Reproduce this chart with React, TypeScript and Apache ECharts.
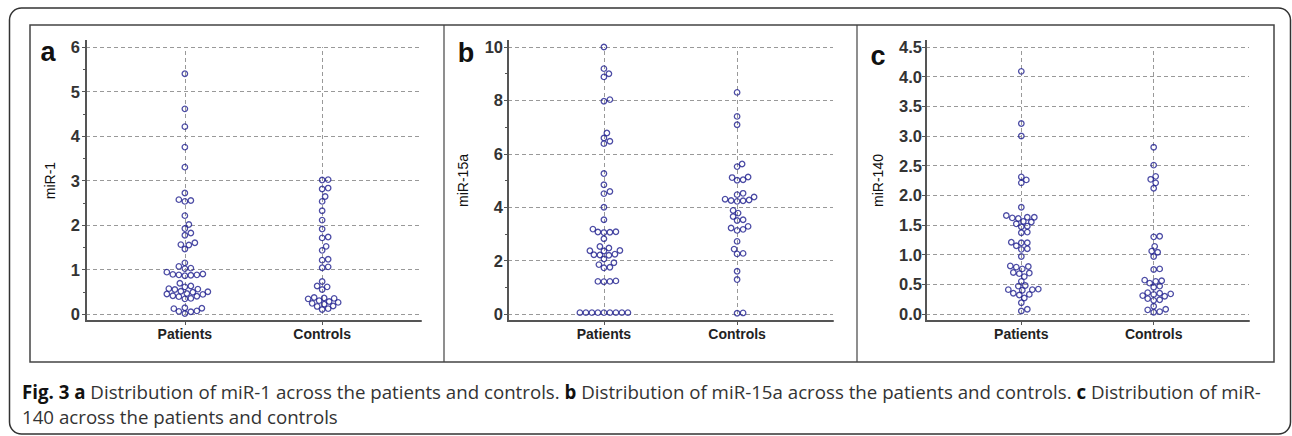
import React, { useEffect, useRef } from "react";
import * as echarts from "echarts";

const categories = ["Patients", "Controls"];
const panelLetters = ["a", "b", "c"];
const yNames = ["miR-1", "miR-15a", "miR-140"];
const yMaxes = [6, 10, 4.5];
const yIntervals = [1, 2, 0.5];

const mir1Patients = [5.4, 4.61, 4.21, 3.75, 3.3, 2.72, 2.57, 2.55, 2.53, 2.21, 2.01, 1.92, 1.82, 1.77, 1.6, 1.56, 1.55, 1.46, 1.15, 1.07, 1.03, 1.02, 0.94, 0.9, 0.89, 0.88, 0.88, 0.87, 0.86, 0.69, 0.63, 0.61, 0.57, 0.56, 0.55, 0.51, 0.5, 0.49, 0.46, 0.45, 0.44, 0.41, 0.4, 0.39, 0.35, 0.34, 0.14, 0.13, 0.12, 0.07, 0.06, 0.05, 0.01];
const mir1Controls = [3.02, 3.01, 2.83, 2.81, 2.64, 2.53, 2.32, 2.11, 1.91, 1.73, 1.71, 1.52, 1.43, 1.23, 1.21, 1.06, 1.04, 0.73, 0.63, 0.61, 0.55, 0.37, 0.36, 0.35, 0.34, 0.3, 0.28, 0.26, 0.24, 0.22, 0.18, 0.17, 0.12, 0.1];
const mir15aPatients = [10.0, 9.19, 9.0, 8.88, 8.03, 7.97, 6.78, 6.59, 6.47, 6.38, 5.26, 4.84, 4.59, 4.51, 4.0, 3.53, 3.18, 3.08, 3.07, 3.06, 3.05, 2.82, 2.53, 2.47, 2.38, 2.37, 2.36, 2.24, 2.22, 2.21, 2.2, 2.06, 1.92, 1.85, 1.75, 1.73, 1.24, 1.22, 1.22, 1.21, 0.05, 0.05, 0.05, 0.05, 0.05, 0.05, 0.05, 0.05, 0.05];
const mir15aControls = [8.3, 7.4, 7.09, 5.62, 5.52, 5.13, 5.11, 5.03, 5.01, 4.52, 4.47, 4.38, 4.3, 4.27, 4.25, 4.24, 4.22, 3.88, 3.78, 3.65, 3.53, 3.5, 3.28, 3.22, 3.17, 3.13, 2.72, 2.43, 2.27, 2.25, 1.6, 1.29, 0.04, 0.03];
const mir140Patients = [4.09, 3.21, 3.0, 2.31, 2.26, 2.21, 1.8, 1.66, 1.63, 1.63, 1.62, 1.61, 1.56, 1.55, 1.52, 1.48, 1.47, 1.38, 1.37, 1.21, 1.2, 1.2, 1.15, 1.1, 1.09, 0.97, 0.81, 0.8, 0.79, 0.76, 0.7, 0.69, 0.68, 0.63, 0.55, 0.48, 0.47, 0.42, 0.41, 0.41, 0.4, 0.35, 0.33, 0.32, 0.27, 0.19, 0.08, 0.05];
const mir140Controls = [2.81, 2.51, 2.32, 2.27, 2.21, 2.12, 1.31, 1.3, 1.14, 1.06, 1.04, 0.97, 0.76, 0.75, 0.57, 0.56, 0.55, 0.52, 0.47, 0.45, 0.36, 0.35, 0.34, 0.33, 0.31, 0.3, 0.26, 0.24, 0.23, 0.13, 0.08, 0.07, 0.04, 0.03];

const panelData = [
  [mir1Patients, mir1Controls],
  [mir15aPatients, mir15aControls],
  [mir140Patients, mir140Controls],
];

const captionLine1 = "Distribution of miR-1 across the patients and controls. ";
const captionLine1b = "Distribution of miR-15a across the patients and controls. ";
const captionLine1c = "Distribution of miR-";
const captionLine2 = "140 across the patients and controls";

// layout
const gridLefts = [86, 508, 926];
const gridWidths = [335, 325, 323];
const gridTop = 47;
const gridHeight = 267;
const xMin = 0.28;
const xMax = 2.72;
const markerD = 5.6;
const navy = "#1f1f8e";
const FONT = "Liberation Sans";
const CAP_FONT = "Open Sans";
const CAP_SIZE = 18.7;

function swarmOffsets(values: number[], pxPerY: number, pxPerX: number): number[] {
  const placed: { x: number; y: number }[] = [];
  const order = values.map((v, i) => ({ v, i })).sort((a, b) => a.v - b.v);
  const out = new Array(values.length).fill(0);
  for (const { v, i } of order) {
    const y = v * pxPerY;
    let off = 0;
    for (let k = 0; k < 400; k++) {
      const cand = k === 0 ? 0 : k % 2 === 1 ? (k + 1) / 2 : -(k / 2);
      let ok = true;
      for (const p of placed) {
        const dx = p.x - cand;
        const dy = p.y - y;
        if (dx * dx + dy * dy < markerD * markerD) { ok = false; break; }
      }
      if (ok) { off = cand; break; }
    }
    placed.push({ x: off, y });
    out[i] = off / pxPerX;
  }
  return out;
}

function buildOption() {
  const grids: any[] = [];
  const xAxes: any[] = [];
  const yAxes: any[] = [];
  const series: any[] = [];
  const graphics: any[] = [];

  for (let p = 0; p < 3; p++) {
    grids.push({ left: gridLefts[p], top: gridTop, width: gridWidths[p], height: gridHeight });
    xAxes.push({
      gridIndex: p,
      type: "value",
      min: xMin,
      max: xMax,
      offset: 7,
      axisLine: { show: true, onZero: false, lineStyle: { color: "#555", width: 2 } },
      axisTick: { show: true, customValues: [1, 2], length: 4, lineStyle: { color: "#555" } },
      axisLabel: {
        customValues: [1, 2],
        formatter: (v: number) => categories[Math.round(v) - 1] ?? "",
        fontFamily: FONT,
        fontWeight: "bold",
        fontSize: 14,
        color: "#222",
        margin: 6,
      },
      splitLine: { show: false },
    });
    yAxes.push({
      gridIndex: p,
      type: "value",
      min: 0,
      max: yMaxes[p],
      interval: yIntervals[p],
      name: yNames[p],
      nameLocation: "middle",
      nameGap: [29, 38, 41][p],
      nameTextStyle: { fontFamily: FONT, fontSize: 14, color: "#111" },
      axisLine: { show: true, lineStyle: { color: "#555", width: 2 } },
      axisTick: { show: true, length: 4, lineStyle: { color: "#555" } },
      minorTick: { show: p < 2, splitNumber: 2, length: 3, lineStyle: { color: "#555" } },
      axisLabel: {
        margin: [6, 5, 4][p],
        fontFamily: FONT,
        fontWeight: "bold",
        fontSize: 16.5,
        color: "#333",
        formatter: p === 2 ? (v: number) => v.toFixed(1) : (v: number) => String(v),
      },
      splitLine: { show: true, lineStyle: { color: "#999", type: [4, 3], width: 1 } },
    });

    const pxPerY = gridHeight / yMaxes[p];
    const pxPerX = gridWidths[p] / (xMax - xMin);
    for (let g = 0; g < 2; g++) {
      const vals = panelData[p][g];
      const offs = swarmOffsets(vals, pxPerY, pxPerX);
      const s: any = {
        type: "scatter",
        xAxisIndex: p,
        yAxisIndex: p,
        symbol: "circle",
        symbolSize: 5.5,
        itemStyle: { color: "rgba(0,0,0,0)", borderColor: navy, borderWidth: 1.3 },
        data: vals.map((v, i) => [g + 1 + offs[i], v]),
        z: 3,
      };
      if (g === 0) {
        s.markLine = {
          silent: true,
          symbol: "none",
          label: { show: false },
          lineStyle: { color: "#999", type: [4, 3], width: 1 },
          data: [{ xAxis: 1 }, { xAxis: 2 }],
          z: 1,
        };
      }
      series.push(s);
    }

    // y-axis line extensions
    const ax = gridLefts[p];
    graphics.push({ type: "line", shape: { x1: ax, y1: 40, x2: ax, y2: gridTop }, style: { stroke: "#555", lineWidth: 2 } });
    graphics.push({ type: "line", shape: { x1: ax, y1: gridTop + gridHeight, x2: ax, y2: gridTop + gridHeight + 8 }, style: { stroke: "#555", lineWidth: 2 } });
  }

  // frames
  graphics.push({ type: "rect", shape: { x: 9.5, y: 8, width: 1281, height: 426, r: 12 }, style: { fill: "none", stroke: "#333", lineWidth: 1.5 } });
  graphics.push({ type: "rect", shape: { x: 30, y: 25, width: 1244, height: 337 }, style: { fill: "none", stroke: "#444", lineWidth: 1.5 } });
  graphics.push({ type: "line", shape: { x1: 444, y1: 25, x2: 444, y2: 362 }, style: { stroke: "#444", lineWidth: 1.2 } });
  graphics.push({ type: "line", shape: { x1: 857, y1: 25, x2: 857, y2: 362 }, style: { stroke: "#444", lineWidth: 1.2 } });

  // panel letters
  const letterPos = [[48, 52], [466, 53], [878, 56]];
  for (let p = 0; p < 3; p++) {
    graphics.push({
      type: "text",
      x: letterPos[p][0],
      y: letterPos[p][1],
      style: { text: panelLetters[p], font: `bold 27px ${FONT}`, fill: "#111", align: "center", verticalAlign: "middle" },
    });
  }

  // caption
  graphics.push({
    type: "text",
    x: 22,
    y: 391,
    style: {
      text: `{b|Fig. 3 a} ${captionLine1}{b|b} ${captionLine1b}{b|c} ${captionLine1c}`,
      font: `${CAP_SIZE}px ${CAP_FONT}`,
      fill: "#333",
      verticalAlign: "middle",
      rich: { b: { fontWeight: "bold", fontFamily: CAP_FONT, fontSize: CAP_SIZE, fill: "#111" } },
    },
  });
  graphics.push({
    type: "text",
    x: 22,
    y: 416,
    style: { text: captionLine2, font: `${CAP_SIZE}px ${CAP_FONT}`, fill: "#333", verticalAlign: "middle" },
  });

  return {
    animation: false,
    backgroundColor: "#fff",
    grid: grids,
    xAxis: xAxes,
    yAxis: yAxes,
    series,
    graphic: graphics,
  };
}

export default function App() {
  const ref = useRef<HTMLDivElement>(null);
  useEffect(() => {
    const chart = echarts.init(ref.current!, null, { renderer: "svg" });
    chart.setOption(buildOption() as any);
    return () => chart.dispose();
  }, []);
  return (
    <div
      ref={ref}
      style={{ position: "fixed", left: 0, top: 0, width: 1292, height: 436, background: "#fff" }}
    />
  );
}
